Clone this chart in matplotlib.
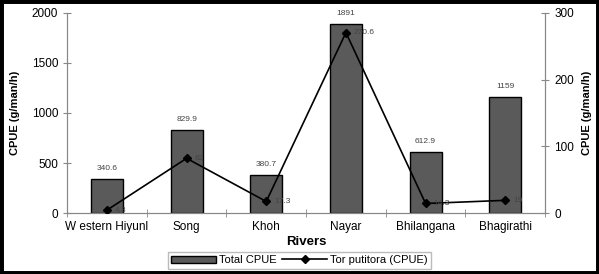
import matplotlib.pyplot as plt
from matplotlib.patches import Rectangle
import numpy as np

rivers = ['W estern Hiyunl', 'Song', 'Khoh', 'Nayar', 'Bhilangana', 'Bhagirathi']
total_cpue = [340.6, 829.9, 380.7, 1891, 612.9, 1159]
tor_cpue = [4.3, 82, 17.3, 270.6, 14.3, 19]
total_labels = ['340.6', '829.9', '380.7', '1891', '612.9', '1159']
tor_labels = ['4.3', '82', '17.3', '270.6', '14.3', '19']

plt.rcParams['font.family'] = ['Liberation Sans', 'DejaVu Sans']

fig = plt.figure(figsize=(5.99, 2.74), dpi=100, facecolor='white')
ax = fig.add_axes([0.112, 0.2226, 0.798, 0.73])
ax2 = ax.twinx()

x = np.arange(len(rivers))
bars = ax.bar(x, total_cpue, width=0.4, color='#5a5a5a', edgecolor='black',
              linewidth=1, label='Total CPUE', zorder=2)
for xi, v, t in zip(x, total_cpue, total_labels):
    ax.text(xi, v + 70, t, ha='center', va='bottom', fontsize=6, color='#444444')

line, = ax2.plot(x, tor_cpue, color='black', lw=1.2, marker='D', markersize=4,
                 label='Tor putitora (CPUE)', zorder=3)
for xi, v, t in zip(x, tor_cpue, tor_labels):
    ax2.text(xi + 0.1, v, t, ha='left', va='center', fontsize=6, color='#444444')

ax.set_xlim(-0.5, len(rivers) - 0.5)
ax.set_ylim(0, 2000)
ax2.set_ylim(0, 300)
ax.set_yticks([0, 500, 1000, 1500, 2000])
ax2.set_yticks([0, 100, 200, 300])

ax.set_xticks(x)
ax.set_xticklabels(rivers, fontsize=8.5)
ax.set_xticks(np.arange(-0.5, len(rivers)), minor=True)
ax.tick_params(axis='x', which='major', length=0, pad=6)
ax.tick_params(axis='x', which='minor', length=6, direction='inout', color='#888888')
ax.tick_params(axis='y', labelsize=8.5, direction='inout', length=6, color='#888888')
ax2.tick_params(axis='y', labelsize=8.5, direction='inout', length=6, color='#888888')

for a in (ax, ax2):
    a.spines['top'].set_visible(False)
    for s in ('left', 'right', 'bottom'):
        a.spines[s].set_color('#888888')

ax.set_ylabel('CPUE (g/man/h)', fontsize=8, fontweight='bold', labelpad=8)
ax2.set_ylabel('CPUE (g/man/h)', fontsize=8, fontweight='bold', labelpad=6)
ax.set_xlabel('Rivers', fontsize=9.5, fontweight='bold', labelpad=2)

fig.legend([bars, line], ['Total CPUE', 'Tor putitora (CPUE)'], loc='center',
           bbox_to_anchor=(0.5, 0.05), ncol=2, fontsize=8, frameon=True,
           fancybox=False, edgecolor='#aaaaaa', handlelength=4, borderpad=0.3,
           columnspacing=0.5, handletextpad=0.3)

fig.patches.append(Rectangle((0, 0), 1, 1, transform=fig.transFigure, fill=False,
                             edgecolor='black', linewidth=5))

plt.savefig('out.png', dpi=100, facecolor=fig.get_facecolor())
